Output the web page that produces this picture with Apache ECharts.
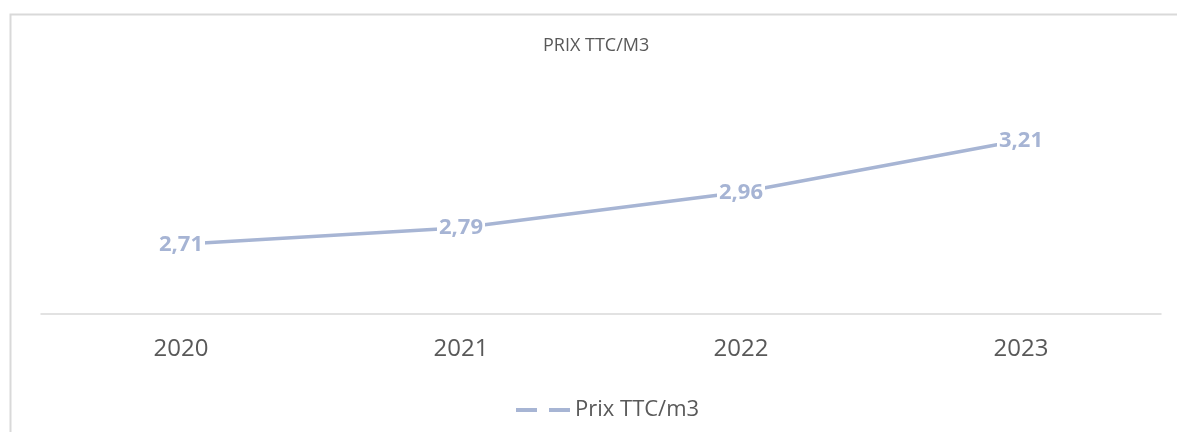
<!DOCTYPE html>
<html>
<head>
<meta charset="utf-8">
<script src="https://cdn.jsdelivr.net/npm/echarts@6/dist/echarts.min.js"></script>
<style>
  html, body { margin: 0; padding: 0; background: #fff; }
  #chart { width: 1177px; height: 432px; }
</style>
</head>
<body>
<div id="chart"></div>
<script>
var years = ["2020", "2021", "2022", "2023"];
var prix = [2.71, 2.79, 2.96, 3.21];
var seriesName = "Prix TTC/m3";

var lineColor = "#a7b5d4";
var textColor = "#595959";
var fontFamily = "'Open Sans', 'Noto Sans', sans-serif";

var chart = echarts.init(document.getElementById("chart"));

chart.setOption({
  animation: false,
  backgroundColor: "#fff",
  textStyle: { fontFamily: fontFamily },
  graphic: [
    {
      // chart area border (cut off by the crop on the right and bottom)
      type: "rect",
      shape: { x: 10.5, y: 14.5, width: 1300, height: 600 },
      style: { fill: "none", stroke: "#d9d9d9", lineWidth: 2 },
      silent: true
    }
  ],
  title: {
    text: "PRIX TTC/M3",
    left: 543,
    top: 37,
    padding: 0,
    textStyle: {
      color: textColor,
      fontSize: 18,
      fontWeight: "normal",
      fontFamily: fontFamily
    }
  },
  legend: {
    data: [{ name: seriesName, icon: "path://M0,0h21v4h-21z M33,0h21v4h-21z" }],
    left: 511,
    top: 394,
    itemWidth: 54,
    itemHeight: 4,
    itemGap: 4,
    itemStyle: { color: lineColor },
    textStyle: { color: textColor, fontSize: 22, fontFamily: fontFamily }
  },
  grid: { left: 41, right: 16, top: 60, bottom: 118 },
  xAxis: {
    type: "category",
    data: years,
    boundaryGap: true,
    axisLine: { lineStyle: { color: "#d9d9d9", width: 1.5 } },
    axisTick: { show: false },
    axisLabel: { color: textColor, fontSize: 24, margin: 23, fontFamily: fontFamily }
  },
  yAxis: {
    type: "value",
    min: 2.375,
    max: 3.596,
    show: false,
    splitLine: { show: false }
  },
  series: [
    {
      name: seriesName,
      type: "line",
      data: prix,
      symbol: "circle",
      symbolSize: 0,
      lineStyle: { color: lineColor, width: 3.5 },
      itemStyle: { color: lineColor },
      label: {
        show: true,
        position: "inside",
        color: "#a6b4d4",
        fontSize: 22,
        fontWeight: "bold",
        fontFamily: fontFamily,
        backgroundColor: "#fff",
        padding: [2, 2, 0, 2],
        formatter: function (p) {
          return p.value.toFixed(2).replace(".", ",");
        }
      }
    }
  ]
});
</script>
</body>
</html>
